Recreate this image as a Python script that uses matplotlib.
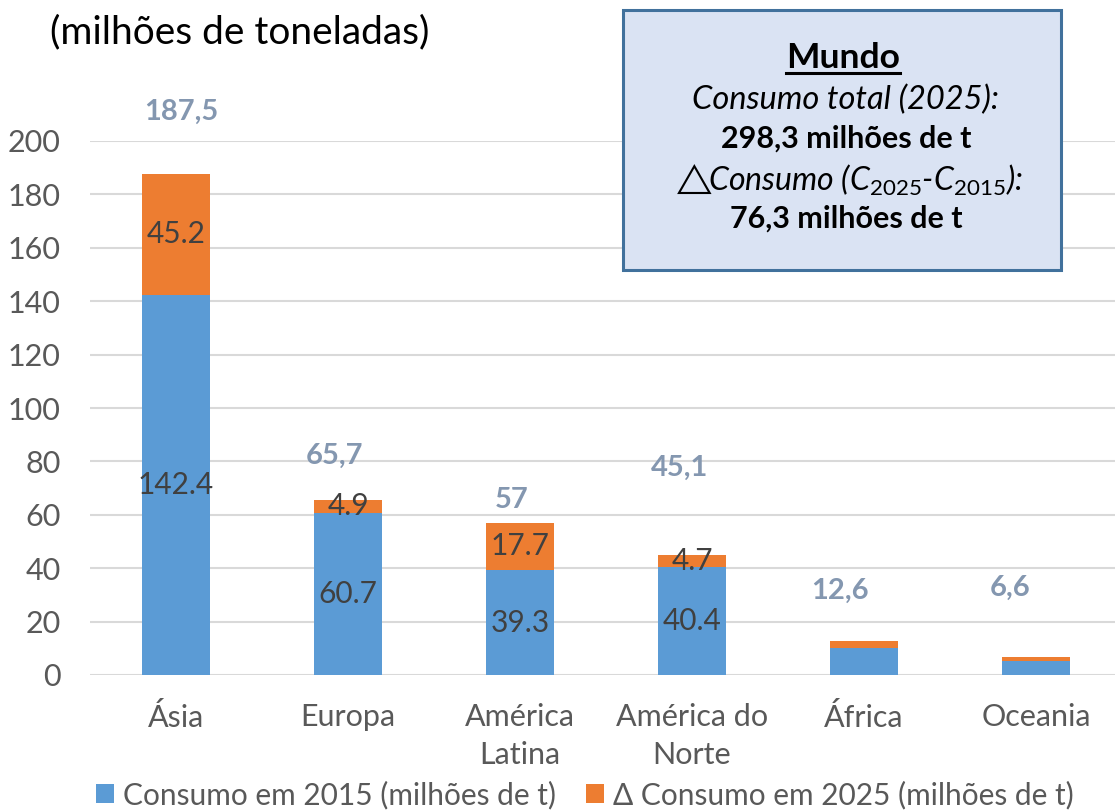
import matplotlib
matplotlib.use("Agg")
import matplotlib.pyplot as plt
import numpy as np
from matplotlib.patches import Rectangle
from matplotlib.lines import Line2D

plt.rcParams['font.family'] = ['Lato', 'DejaVu Sans']
plt.rcParams['mathtext.fontset'] = 'custom'
plt.rcParams['mathtext.it'] = 'Lato:italic'
plt.rcParams['mathtext.rm'] = 'Lato'
plt.rcParams['mathtext.fallback'] = 'stixsans'

# data
regioes = ["Ásia", "Europa", "América\nLatina", "América do\nNorte", "África", "Oceania"]
consumo_2015 = [142.4, 60.7, 39.3, 40.4, 10.2, 5.1]
delta_2025 = [45.2, 4.9, 17.7, 4.7, 2.4, 1.5]
totais_txt = ["187,5", "65,7", "57", "45,1", "12,6", "6,6"]
mostrar_seg = [True, True, True, True, False, False]

# where the total labels sit (data units)
tot_dx = [0.03, -0.08, -0.05, -0.07, -0.14, -0.15]
tot_y = [211, 82, 65.5, 77.5, 31.5, 32.6]

azul = "#5B9BD5"
laranja = "#ED7D31"

fig = plt.figure(figsize=(11.15, 8.11), dpi=100)
W, H = 1115, 811
ax = fig.add_axes([90 / W, (H - 675) / H, (W - 90) / W, (675 - 141) / H])

x = np.arange(len(regioes))
w = 0.395
b1 = ax.bar(x, consumo_2015, w, color=azul, zorder=3, label="Consumo em 2015 (milhões de t)")
b2 = ax.bar(x, delta_2025, w, bottom=consumo_2015, color=laranja, zorder=3,
            label="Δ Consumo em 2025 (milhões de t)")

for i in range(len(regioes)):
    if mostrar_seg[i]:
        ax.text(x[i], consumo_2015[i] / 2, f"{consumo_2015[i]:.1f}", ha="center", va="center",
                fontsize=21.5, color="#404040", zorder=4)
        ax.text(x[i], consumo_2015[i] + delta_2025[i] / 2, f"{delta_2025[i]:.1f}", ha="center",
                va="center", fontsize=21.5, color="#404040", zorder=4)
    ax.text(x[i] + tot_dx[i], tot_y[i], totais_txt[i], ha="center", va="center", fontsize=21,
            fontweight="bold", color="#8497B0", clip_on=False, zorder=4)

ax.set_ylim(0, 200)
ax.set_xlim(-0.5, 5.5 - 7 / 172)
ax.set_yticks(range(0, 201, 20))
ax.set_xticks(x)
ax.set_xticklabels(regioes, fontsize=22, color="#595959", linespacing=1.45)
ax.tick_params(axis="y", labelsize=22, labelcolor="#595959", length=0, pad=21)
ax.tick_params(axis="x", length=0, pad=20)
ax.grid(axis="y", color="#D9D9D9", linewidth=1.5, zorder=0)
for s in ax.spines.values():
    s.set_visible(False)

fig.text(50 / W, 1 - 32 / H, "(milhões de toneladas)", fontsize=28, color="#000000",
         ha="left", va="center")

leg = fig.legend(handles=[b1, b2], loc="center", bbox_to_anchor=(585 / W, 1 - 795 / H), ncol=2,
                 frameon=False, fontsize=21.5, handlelength=0.6, handleheight=0.6,
                 handletextpad=0.3, columnspacing=1.0)
for t in leg.get_texts():
    t.set_color("#595959")

# Mundo box
fig.patches.append(Rectangle((623 / W, 1 - 270 / H), 438 / W, 260 / H, transform=fig.transFigure,
                             facecolor="#DAE3F3", edgecolor="#41719C", linewidth=2.2, zorder=5))
cx = 846 / W
mundo = fig.text(cx - 3 / W, 1 - 58 / H, "Mundo", fontsize=25.5, fontweight="bold", ha="center",
                 va="center", zorder=6)
fig.text(cx, 1 - 100 / H, "Consumo total (2025):", fontsize=23.5, fontstyle="italic",
         ha="center", va="center", zorder=6)
fig.text(cx, 1 - 139 / H, "298,3 milhões de t", fontsize=22, fontweight="bold",
         ha="center", va="center", zorder=6)
fig.text(cx, 1 - 180 / H, r"$\triangle\!\!$Consumo ($\mathit{C_{2025}}$-$\mathit{C_{2015}}$):",
         fontsize=23, fontstyle="italic", ha="center", va="center", zorder=6)
fig.text(cx, 1 - 219 / H, "76,3 milhões de t", fontsize=22, fontweight="bold",
         ha="center", va="center", zorder=6)

# underline for "Mundo"
fig.canvas.draw()
bb = mundo.get_window_extent().transformed(fig.transFigure.inverted())
fig.lines.append(Line2D([bb.x0, bb.x1], [bb.y0 + 0.001, bb.y0 + 0.001], transform=fig.transFigure,
                        color="black", linewidth=2.2, zorder=6))

fig.savefig("out.png", dpi=100)
